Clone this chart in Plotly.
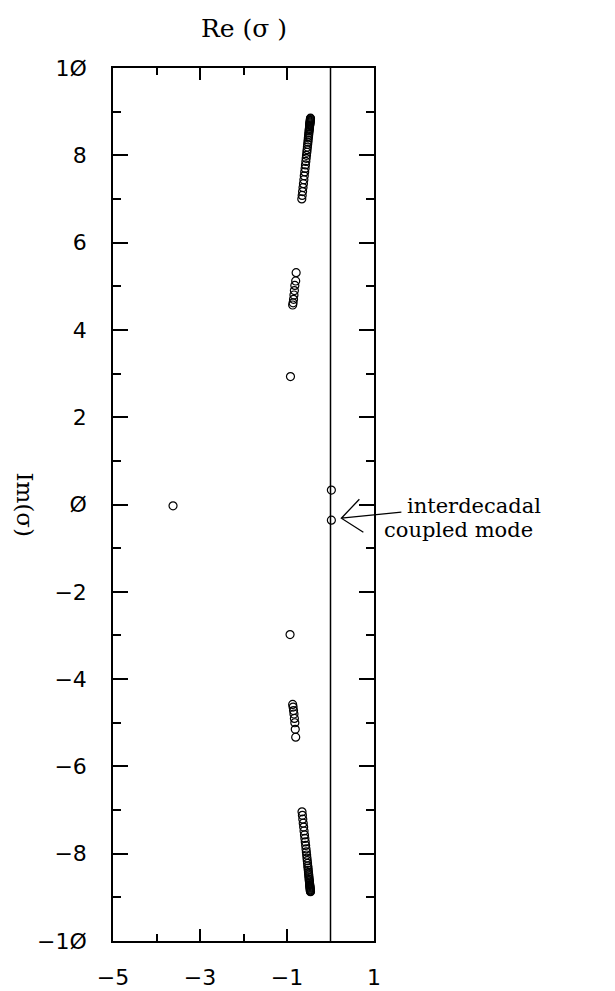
import plotly.graph_objects as go

# Eigenvalues sigma of the coupled model: real and imaginary parts
upper_band_re = [-0.660, -0.651, -0.642, -0.632, -0.622, -0.612, -0.603, -0.593,
                 -0.584, -0.576, -0.567, -0.559, -0.552, -0.544, -0.538, -0.531,
                 -0.525, -0.519, -0.514, -0.509, -0.504, -0.500, -0.496, -0.491,
                 -0.488, -0.485, -0.482, -0.479, -0.476, -0.474, -0.472, -0.470,
                 -0.468, -0.465, -0.463, -0.461, -0.460]
upper_band_im = [7.00, 7.08, 7.17, 7.26, 7.35, 7.44, 7.53, 7.62, 7.70, 7.78, 7.86,
                 7.93, 8.00, 8.07, 8.13, 8.19, 8.25, 8.30, 8.35, 8.40, 8.44, 8.48,
                 8.52, 8.56, 8.59, 8.62, 8.65, 8.68, 8.70, 8.72, 8.74, 8.76, 8.78,
                 8.80, 8.82, 8.84, 8.85]

lower_band_re = [-0.655, -0.646, -0.637, -0.627, -0.617, -0.608, -0.598, -0.589,
                 -0.580, -0.571, -0.563, -0.555, -0.548, -0.541, -0.534, -0.528,
                 -0.522, -0.516, -0.511, -0.506, -0.502, -0.498, -0.494, -0.490,
                 -0.487, -0.484, -0.481, -0.478, -0.476, -0.473, -0.471, -0.469,
                 -0.467, -0.465, -0.463, -0.461, -0.460]
lower_band_im = [-7.04, -7.12, -7.21, -7.30, -7.39, -7.48, -7.57, -7.65, -7.73,
                 -7.81, -7.89, -7.96, -8.03, -8.10, -8.16, -8.22, -8.28, -8.33,
                 -8.38, -8.43, -8.47, -8.51, -8.55, -8.59, -8.62, -8.65, -8.68,
                 -8.71, -8.73, -8.75, -8.77, -8.79, -8.81, -8.83, -8.85, -8.86, -8.87]

mid_re = [-0.79, -0.80, -0.82, -0.83, -0.84, -0.85, -0.86, -0.87,
          -0.87, -0.86, -0.85, -0.84, -0.83, -0.82, -0.81, -0.80]
mid_im = [5.31, 5.12, 5.02, 4.90, 4.80, 4.70, 4.62, 4.57,
          -4.58, -4.64, -4.72, -4.80, -4.90, -5.00, -5.15, -5.33]

single_re = [-0.92, -0.93, -3.62]
single_im = [2.93, -2.98, -0.03]

# the interdecadal coupled mode (complex-conjugate pair)
mode_re = [0.02, 0.02]
mode_im = [0.33, -0.36]

re_all = upper_band_re + lower_band_re + mid_re + single_re + mode_re
im_all = upper_band_im + lower_band_im + mid_im + single_im + mode_im

x_range = [-5, 1]
y_range = [-10, 10]
x_tickvals = [-5, -3, -1, 1]
x_ticktext = ["−5", "−3", "−1", "1"]
y_tickvals = [10, 8, 6, 4, 2, 0, -2, -4, -6, -8, -10]
y_ticktext = ["1Ø", "8", "6", "4", "2", "Ø", "−2", "−4", "−6", "−8", "−1Ø"]

tick_font = dict(family="DejaVu Sans", size=22, color="black")
serif = "DejaVu Serif"

fig = go.Figure()
fig.add_trace(go.Scatter(
    x=re_all, y=im_all, mode="markers",
    marker=dict(symbol="circle-open", size=8, color="black", line=dict(width=1.2)),
    showlegend=False, cliponaxis=False,
))

# neutral-stability line Re(sigma) = 0
fig.add_shape(type="line", xref="x", yref="paper", x0=0, x1=0, y0=0, y1=1,
              line=dict(color="black", width=1.5))

# open arrow pointing at the lower member of the coupled pair; anchored in
# paper fractions so the part outside the axes is not clipped
mx, my = mode_re[1], mode_im[1]
ax_frac = (mx - x_range[0]) / (x_range[1] - x_range[0])
ay_frac = (my - y_range[0]) / (y_range[1] - y_range[0])
fig.add_shape(type="path", xref="paper", yref="paper",
              xsizemode="pixel", ysizemode="pixel",
              xanchor=ax_frac, yanchor=ay_frac,
              path="M 70,8 L 10,2 M 28,21 L 10,2 L 32,-12",
              line=dict(color="black", width=1.3))

axis_common = dict(
    showline=True, linecolor="black", linewidth=1.5, mirror="ticks",
    ticks="inside", tickcolor="black", tickwidth=1.5, automargin=False,
    showgrid=False, zeroline=False, tickfont=tick_font,
)

fig.update_xaxes(
    range=x_range, tickvals=x_tickvals, ticktext=x_ticktext, ticklen=12,
    minor=dict(ticks="inside", tickvals=[-4, -3, -2, -1], ticklen=7,
               tickcolor="black", tickwidth=1.5, showgrid=False),
    ticklabelstandoff=16,
    **axis_common,
)
fig.update_yaxes(
    range=y_range, tickvals=y_tickvals, ticktext=y_ticktext, ticklen=15,
    minor=dict(ticks="inside", dtick=1, tick0=0, ticklen=8,
               tickcolor="black", tickwidth=1.5, showgrid=False),
    ticklabelstandoff=20,
    **axis_common,
)

fig.add_annotation(text="Re (σ )", xref="paper", yref="paper", x=0.5, y=1, yshift=40,
                   showarrow=False, font=dict(family=serif, size=25, color="black"),
                   xanchor="center", yanchor="middle")
fig.add_annotation(text="Im(σ)", xref="paper", yref="paper", x=0, xshift=-88, y=0.5,
                   showarrow=False, textangle=90,
                   font=dict(family=serif, size=23, color="black"),
                   xanchor="center", yanchor="middle")
fig.add_annotation(text="interdecadal", xref="x", yref="y", x=mx, y=my,
                   xshift=74, yshift=14, showarrow=False, xanchor="left",
                   yanchor="middle", font=dict(family=serif, size=21, color="black"))
fig.add_annotation(text="coupled mode", xref="x", yref="y", x=mx, y=my,
                   xshift=51, yshift=-10, showarrow=False, xanchor="left",
                   yanchor="middle", font=dict(family=serif, size=21, color="black"))

fig.update_layout(
    width=615, height=991,
    margin=dict(l=113, r=241, t=68, b=50),
    paper_bgcolor="white", plot_bgcolor="white",
)

fig.write_html("out.html")
